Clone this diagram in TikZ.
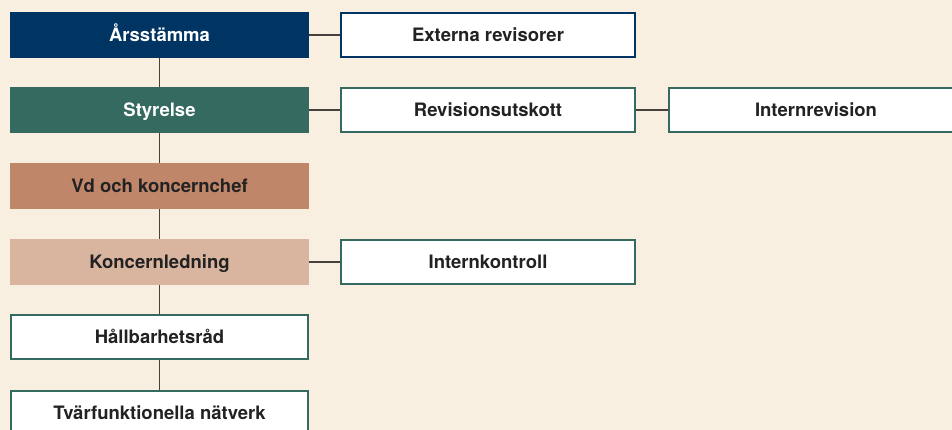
\documentclass[tikz,border=0pt]{standalone}
\usepackage{fontspec}
\setmainfont{TeX Gyre Heros}
\usetikzlibrary{positioning}

\definecolor{bgcream}{HTML}{F8EFE0}
\definecolor{navy}{HTML}{003563}
\definecolor{boardgreen}{HTML}{346A60}
\definecolor{terracotta}{HTML}{C0866A}
\definecolor{blush}{HTML}{D9B5A0}
\definecolor{linkgrey}{HTML}{45403B}
\definecolor{textdark}{HTML}{222222}

\begin{document}
\begin{tikzpicture}[%
  x=1pt, y=1pt,
  every node/.style={font=\bfseries\fontsize{18.5}{22}\selectfont, inner sep=0pt,
    text height=15pt, text depth=2.4pt},
  solid/.style={minimum width=299pt, minimum height=46pt, outer sep=0pt},
  framed/.style={draw=boardgreen, fill=white, line width=2pt, text=textdark,
    minimum width=297pt, minimum height=44pt},
  link/.style={draw=linkgrey, line width=1.3pt}]

  \useasboundingbox (0,0) rectangle (952,-430);
  \clip (0,0) rectangle (952,-430);
  \fill[bgcream] (0,0) rectangle (952,-430);

  % left column
  \node[solid, fill=navy, text=white] (agm) at (159.5,-35) {Årsstämma};
  \node[solid, fill=boardgreen, text=white] (board) at (159.5,-110) {Styrelse};
  \node[solid, fill=terracotta, text=textdark] (ceo) at (159.5,-186) {Vd och koncernchef};
  \node[solid, fill=blush, text=textdark] (mgmt) at (159.5,-262) {Koncernledning};
  \node[framed] (council) at (159.5,-337) {Hållbarhetsråd};
  \node[framed] (network) at (159.5,-413) {Tvärfunktionella nätverk};

  % right side
  \node[framed, draw=navy, minimum width=294pt] (auditors) at (488,-35) {Externa revisorer};
  \node[framed, minimum width=294pt] (audcomm) at (488,-110) {Revisionsutskott};
  \node[framed, minimum width=294pt] (intaudit) at (816,-110) {Internrevision};
  \node[framed, minimum width=294pt] (intctrl) at (488,-262) {Internkontroll};

  \draw[link] (agm) -- (board);
  \draw[link] (board) -- (ceo);
  \draw[link] (ceo) -- (mgmt);
  \draw[link] (mgmt) -- (council);
  \draw[link] (council) -- (network);

  \draw[link] (agm) -- (auditors);
  \draw[link] (board) -- (audcomm);
  \draw[link] (audcomm) -- (intaudit);
  \draw[link] (mgmt) -- (intctrl);
\end{tikzpicture}
\end{document}
